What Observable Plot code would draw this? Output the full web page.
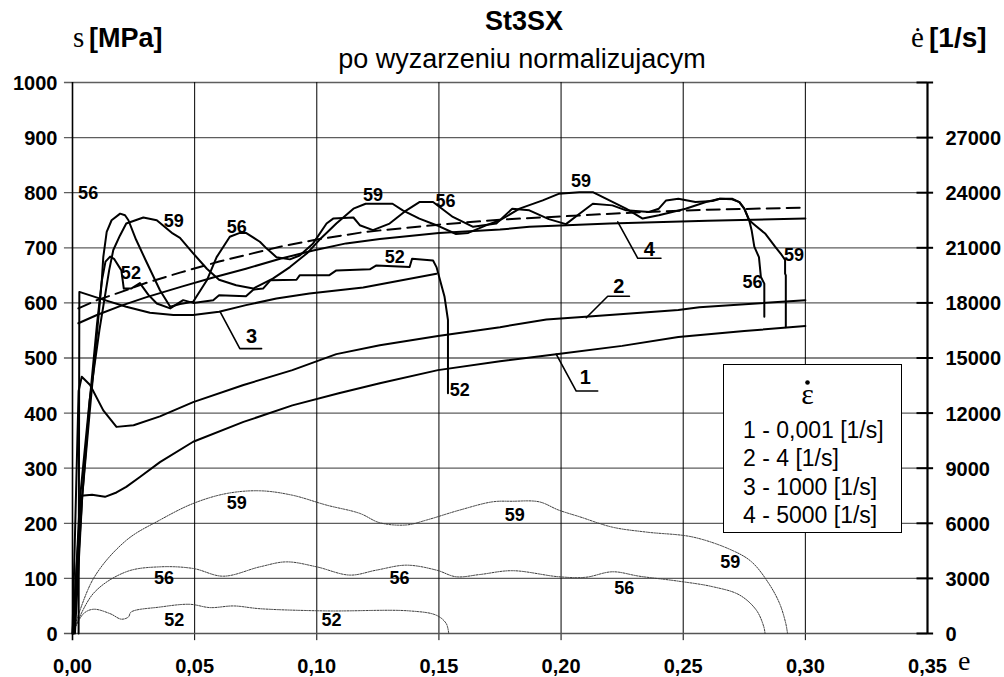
<!DOCTYPE html>
<html>
<head>
<meta charset="utf-8">
<script src="https://cdn.jsdelivr.net/npm/d3@7"></script>
<script src="https://cdn.jsdelivr.net/npm/@observablehq/plot@0.6"></script>
<style>
  html, body { margin: 0; padding: 0; background: #fff; }
  #chart { width: 1004px; height: 677px; }
</style>
</head>
<body>
<div id="chart"></div>
<script>
// ---- axes ----
const strainTicks = [0, 0.05, 0.10, 0.15, 0.20, 0.25, 0.30, 0.35];
const strainTickLabels = ["0,00", "0,05", "0,10", "0,15", "0,20", "0,25", "0,30", "0,35"];
const stressTicks = [0, 100, 200, 300, 400, 500, 600, 700, 800, 900, 1000];
const rateTicks = [0, 3000, 6000, 9000, 12000, 15000, 18000, 21000, 24000, 27000, 30000];
const rateTickLabels = ["0", "3000", "6000", "9000", "12000", "15000", "18000", "21000", "24000", "27000", ""];
const rateMax = 30000, stressMax = 1000;

// ---- model curves (strain, stress MPa) ----
const curve1 = [[0,0],[0.0035,250],[0.008,252],[0.0133,248],[0.018,256],[0.022,266],[0.0276,284],[0.0358,311],[0.0494,348],[0.070,384],[0.090,414],[0.109,436],[0.1258,454],[0.1496,478],[0.175,494],[0.198,507],[0.225,522],[0.248,538],[0.275,549],[0.30,558]];
const curve2 = [[0,0],[0.0025,440],[0.0038,466],[0.0072,451],[0.0126,405],[0.018,375],[0.025,378],[0.0358,394],[0.0494,420],[0.070,451],[0.090,478],[0.108,507],[0.1258,523],[0.1496,540],[0.175,556],[0.194,570],[0.210,575],[0.248,587],[0.2566,592],[0.30,605]];
const curve3 = [[0.0025,0],[0.0028,620],[0.0126,606],[0.022,593],[0.0317,582],[0.0413,578],[0.0494,578],[0.060,584],[0.071,596],[0.0835,608],[0.097,617],[0.119,628],[0.149,653]];
const curve4 = [[0.0024,563],[0.01,578],[0.02,595],[0.03,610],[0.045,630],[0.0576,646],[0.071,662],[0.085,680],[0.0985,695],[0.112,708],[0.1258,716],[0.15,727],[0.175,733],[0.187,738],[0.22,744],[0.26,749],[0.30,753]];
const curveDashed = [[0.0024,590],[0.01,605],[0.02,620],[0.03,636],[0.044,655],[0.06,675],[0.085,702],[0.10,715],[0.12,729],[0.15,742],[0.175,751],[0.2,757],[0.23,764],[0.26,769],[0.30,773]];

// ---- experimental stress curves ----
const exp52 = [[0.001,0],[0.004,250],[0.007,420],[0.010,560],[0.012,640],[0.0135,675],[0.0154,684],[0.017,680],[0.020,659],[0.021,626],[0.024,626],[0.0276,636],[0.031,615],[0.0345,599],[0.040,590],[0.0453,605],[0.0494,600],[0.0576,605],[0.060,614],[0.071,612],[0.074,624],[0.078,626],[0.081,641],[0.0917,642],[0.093,650],[0.105,650],[0.108,659],[0.1217,661],[0.1244,668],[0.138,665],[0.139,680],[0.1476,677],[0.149,665],[0.1523,611],[0.1537,569],[0.1537,436]];
const exp56 = [[0.0005,0],[0.004,250],[0.007,400],[0.0095,520],[0.012,641],[0.0126,683],[0.014,729],[0.016,750],[0.0195,762],[0.0215,759],[0.0229,750],[0.026,715],[0.030,677],[0.0358,623],[0.040,593],[0.044,598],[0.0494,602],[0.055,641],[0.059,683],[0.0644,720],[0.0685,727],[0.071,727],[0.0767,711],[0.0794,699],[0.0835,683],[0.089,679],[0.093,686],[0.0985,708],[0.104,744],[0.1067,753],[0.115,755],[0.1176,741],[0.123,732],[0.1298,744],[0.1367,768],[0.142,783],[0.1476,783],[0.1557,756],[0.164,738],[0.1735,744],[0.180,771],[0.187,768],[0.195,752],[0.202,743],[0.207,760],[0.213,780],[0.221,777],[0.2266,768],[0.236,765],[0.240,771],[0.243,786],[0.248,789],[0.255,783],[0.262,785],[0.265,789],[0.270,788],[0.273,783],[0.275,771],[0.277,750],[0.278,732],[0.2791,702],[0.281,683],[0.2818,647],[0.2832,635],[0.2832,575]];
const exp59 = [[0.0003,0],[0.003,242],[0.007,423],[0.011,550],[0.015,659],[0.0167,696],[0.0194,722],[0.022,744],[0.029,755],[0.0345,750],[0.041,726],[0.044,718],[0.0494,690],[0.055,662],[0.060,642],[0.067,632],[0.074,626],[0.082,644],[0.089,665],[0.096,690],[0.101,714],[0.108,744],[0.115,771],[0.120,780],[0.131,780],[0.1352,768],[0.142,753],[0.149,741],[0.157,725],[0.162,727],[0.170,742],[0.175,750],[0.183,771],[0.1925,786],[0.199,798],[0.2075,801],[0.213,801],[0.2198,786],[0.2266,771],[0.2334,753],[0.240,759],[0.251,771],[0.2593,783],[0.265,789],[0.270,789],[0.273,783],[0.275,771],[0.277,750],[0.2794,741],[0.2835,726],[0.2876,702],[0.2903,687],[0.2917,678],[0.2917,653],[0.292,650],[0.292,556]];

// ---- strain rate curves (strain, 1/s) ----
const rate52 = [[0,0],[0.0045,1080],[0.0086,1320],[0.0154,1080],[0.020,780],[0.0229,900],[0.024,1170],[0.0358,1440],[0.048,1590],[0.0563,1410],[0.066,1500],[0.0767,1350],[0.104,1230],[0.138,1230],[0.149,990],[0.153,540],[0.154,0]];
const rate56 = [[0,0],[0.0086,2190],[0.022,3360],[0.0358,3630],[0.0494,3540],[0.0617,3120],[0.0767,3630],[0.0876,3900],[0.0999,3630],[0.1135,3180],[0.1244,3450],[0.1367,3720],[0.149,3450],[0.157,3090],[0.1667,3210],[0.180,3420],[0.199,3090],[0.210,3060],[0.221,3360],[0.232,3120],[0.248,2850],[0.262,2550],[0.273,2100],[0.280,1260],[0.283,360],[0.2835,0]];
const rate59 = [[0,0],[0.0086,3000],[0.022,5070],[0.0358,6180],[0.0494,7080],[0.063,7620],[0.0767,7770],[0.090,7530],[0.104,6990],[0.1176,6540],[0.1258,6030],[0.1367,5910],[0.145,6180],[0.1585,6720],[0.172,7170],[0.180,7200],[0.191,7170],[0.199,6720],[0.2075,6360],[0.221,5790],[0.235,5520],[0.254,5250],[0.270,4530],[0.278,3900],[0.285,2730],[0.2895,1620],[0.292,540],[0.2927,0]];

// ---- specimen labels ----
const specimenLabels = [
  {x:0.0064,y:799,t:"56"},{x:0.0415,y:749,t:"59"},{x:0.0239,y:653,t:"52"},{x:0.0672,y:738,t:"56"},
  {x:0.123,y:795,t:"59"},{x:0.1527,y:785,t:"56"},{x:0.1319,y:683,t:"52"},{x:0.2082,y:820,t:"59"},
  {x:0.2784,y:638,t:"56"},{x:0.2954,y:687,t:"59"},{x:0.1585,y:441,t:"52"},
  {x:0.0672,y:236,t:"59"},{x:0.0375,y:100,t:"56"},{x:0.0417,y:24,t:"52"},{x:0.1339,y:100,t:"56"},
  {x:0.106,y:24,t:"52"},{x:0.181,y:215,t:"59"},{x:0.2693,y:130,t:"59"},{x:0.2259,y:82,t:"56"}
];
const curveLabels = [{x:0.0733,y:538,t:"3"},{x:0.2361,y:696,t:"4"},{x:0.2236,y:630,t:"2"},{x:0.2099,y:465,t:"1"}];
const leaders = [
  {k:"3",p:[[0.0604,584],[0.0685,517],[0.0774,517]]},
  {k:"4",p:[[0.2232,747],[0.2314,681],[0.2409,681]]},
  {k:"2",p:[[0.2103,573],[0.2191,612],[0.228,612]]},
  {k:"1",p:[[0.198,507],[0.2062,440],[0.215,440]]}
];
const legendTitle = "ε";
const legendItems = ["1 - 0,001 [1/s]", "2 - 4 [1/s]", "3 - 1000 [1/s]", "4 - 5000 [1/s]"];

const leaderPts = leaders.flatMap(l => l.p.map(p => ({k:l.k, x:p[0], y:p[1]})));
const X = d => d[0], Y = d => d[1], R = d => d[1] * stressMax / rateMax;
const solid = {stroke:"#000", strokeWidth:2, strokeLinejoin:"round"};
const dotted = {stroke:"#3a3a3a", strokeWidth:1, strokeDasharray:"1.5,1.2", curve:"catmull-rom"};

const chart = Plot.plot({
  width: 1004, height: 677,
  marginLeft: 72, marginRight: 77, marginTop: 82, marginBottom: 44,
  x: {domain: [0, 0.35], axis: null},
  y: {domain: [0, 1000], axis: null},
  style: {fontFamily: "'Liberation Sans', Arial, sans-serif", background: "#fff", color: "#000"},
  marks: [
    Plot.ruleY(stressTicks.slice(1), {x1: -0.0033, x2: 0.35, stroke: "#5e5e5e", strokeWidth: 1.3}),
    Plot.ruleX(strainTicks.slice(1, -1), {y1: -13, y2: 1000, stroke: "#000", strokeWidth: 1}),
    Plot.ruleY([0], {x1: -0.0033, x2: 0.35, stroke: "#555", strokeWidth: 1.6}),
    Plot.ruleX([0], {y1: -13, y2: 1000, stroke: "#000", strokeWidth: 1.6}),
    Plot.ruleX([0.35], {y1: 0, y2: 1000, stroke: "#000", strokeWidth: 2.2}),
    Plot.ruleY(rateTicks, {y: d => d * stressMax / rateMax, x1: 0.3457, x2: 0.3525, stroke: "#000", strokeWidth: 2}),
    Plot.text(stressTicks, {x: 0, y: d => d, text: d => String(d), textAnchor: "end", dx: -15, dy: 1, fontSize: 20, fontWeight: "bold"}),
    Plot.text(strainTicks, {x: d => d, y: 0, text: (d, i) => strainTickLabels[i], dy: 33, fontSize: 20, fontWeight: "bold"}),
    Plot.text(rateTicks, {x: 0.35, y: d => d * stressMax / rateMax, text: (d, i) => rateTickLabels[i], textAnchor: "start", dx: 18, dy: 1, fontSize: 20, fontWeight: "bold"}),
    // strain-rate curves
    Plot.line(rate52, {x: X, y: R, ...dotted}),
    Plot.line(rate56, {x: X, y: R, ...dotted}),
    Plot.line(rate59, {x: X, y: R, ...dotted}),
    // model curves
    Plot.line(curve1, {x: X, y: Y, ...solid}),
    Plot.line(curve2, {x: X, y: Y, ...solid}),
    Plot.line(curve3, {x: X, y: Y, ...solid}),
    Plot.line(curve4, {x: X, y: Y, ...solid}),
    Plot.line(curveDashed, {x: X, y: Y, ...solid, strokeDasharray: "13,7"}),
    // experiments
    Plot.line(exp52, {x: X, y: Y, ...solid}),
    Plot.line(exp56, {x: X, y: Y, ...solid}),
    Plot.line(exp59, {x: X, y: Y, ...solid}),
    // leaders and labels
    Plot.line(leaderPts, {x: "x", y: "y", z: "k", stroke: "#000", strokeWidth: 1.6}),
    Plot.text(curveLabels, {x: "x", y: "y", text: "t", fontSize: 20, fontWeight: "bold"}),
    Plot.text(specimenLabels, {x: "x", y: "y", text: "t", fontSize: 18, fontWeight: "bold"})
  ]
});
document.getElementById("chart").appendChild(chart);

// ---- titles, axis names, legend ----
const svg = d3.select(chart);
const sans = "'Liberation Sans', Arial, sans-serif", serif = "'Liberation Serif', 'Times New Roman', serif";
function txt(x, y, s, o = {}) {
  return svg.append("text").attr("x", x).attr("y", y).text(s)
    .attr("font-family", o.family || sans).attr("font-size", o.size || 27)
    .attr("font-weight", o.weight || "normal").attr("text-anchor", o.anchor || "start").attr("fill", "#000");
}
txt(524, 30, "St3SX", {weight: "bold", anchor: "middle"});
txt(522, 68, "po wyzarzeniu normalizujacym", {anchor: "middle"});
txt(73, 47, "s", {family: serif, size: 29});
txt(89, 47, "[MPa]", {weight: "bold", size: 27});
txt(911, 47, "ė", {family: serif, size: 29});
txt(929, 47, "[1/s]", {weight: "bold", size: 28});
txt(958, 670, "e", {family: serif, size: 28});

svg.append("rect").attr("x", 723.5).attr("y", 364.5).attr("width", 178).attr("height", 168)
  .attr("fill", "#fff").attr("stroke", "#000").attr("stroke-width", 1);
txt(807.5, 404, legendTitle, {family: serif, size: 30, anchor: "middle"});
svg.append("circle").attr("cx", 807.5).attr("cy", 382.5).attr("r", 2.3).attr("fill", "#000");
legendItems.forEach((s, i) => txt(743, 437.7 + i * 28.5, s, {size: 23}));
</script>
</body>
</html>
